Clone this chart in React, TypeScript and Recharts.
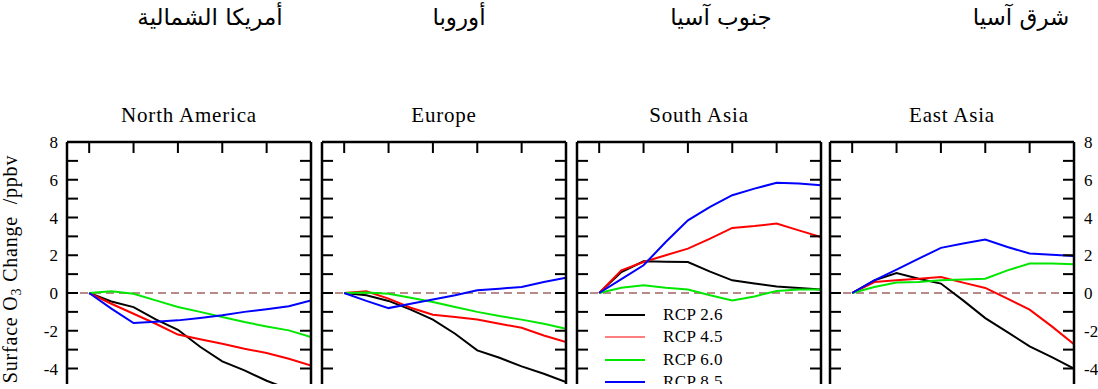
import { LineChart, Line, XAxis, YAxis, ReferenceLine, Legend } from "recharts";

const years = [2000, 2010, 2020, 2030, 2040, 2050, 2060, 2070, 2080, 2090, 2100];
const majorTicks = [2000, 2020, 2040, 2060, 2080, 2100];
const minorTicks = [2010, 2030, 2050, 2070, 2090];
const yTicks = [-8, -7, -6, -5, -4, -3, -2, -1, 0, 1, 2, 3, 4, 5, 6, 7, 8];

const scenarios = ["RCP 2.6", "RCP 4.5", "RCP 6.0", "RCP 8.5"];
const scenarioColors = ["#000000", "#ff0000", "#00e800", "#0000ff"];

const regionTitles = ["North America", "Europe", "South Asia", "East Asia"];
const arabicTitles = ["أمريكا الشمالية", "أوروبا", "جنوب آسيا", "شرق آسيا"];

// surface O3 change (ppbv), one value per decade 2000..2100
const naRcp26 = [0, -0.45, -0.75, -1.4, -1.95, -2.85, -3.62, -4.1, -4.65, -5.1, -5.5];
const naRcp45 = [0, -0.57, -1.1, -1.63, -2.2, -2.45, -2.69, -2.95, -3.18, -3.48, -3.84];
const naRcp60 = [0, 0.09, -0.04, -0.39, -0.74, -1.0, -1.27, -1.54, -1.77, -1.98, -2.33];
const naRcp85 = [0, -0.83, -1.59, -1.52, -1.45, -1.32, -1.18, -1.0, -0.86, -0.7, -0.39];

const euRcp26 = [0, -0.12, -0.42, -0.88, -1.41, -2.16, -3.04, -3.43, -3.89, -4.28, -4.72];
const euRcp45 = [0, 0.09, -0.3, -0.78, -1.15, -1.27, -1.4, -1.63, -1.84, -2.25, -2.6];
const euRcp60 = [0, 0.02, -0.04, -0.25, -0.48, -0.74, -1.0, -1.22, -1.41, -1.63, -1.89];
const euRcp85 = [0, -0.42, -0.8, -0.57, -0.34, -0.12, 0.14, 0.23, 0.32, 0.58, 0.81];

const saRcp26 = [0, 1.11, 1.68, 1.66, 1.64, 1.13, 0.67, 0.5, 0.35, 0.27, 0.19];
const saRcp45 = [0, 1.2, 1.64, 2.0, 2.35, 2.88, 3.45, 3.55, 3.68, 3.32, 2.97];
const saRcp60 = [0, 0.28, 0.41, 0.28, 0.18, -0.12, -0.39, -0.18, 0.11, 0.18, 0.18];
const saRcp85 = [0, 0.74, 1.47, 2.7, 3.85, 4.56, 5.18, 5.53, 5.84, 5.8, 5.71];

const eaRcp26 = [0, 0.67, 1.06, 0.76, 0.5, -0.39, -1.33, -2.07, -2.83, -3.4, -4.01];
const eaRcp45 = [0, 0.58, 0.67, 0.76, 0.85, 0.55, 0.27, -0.3, -0.88, -1.77, -2.72];
const eaRcp60 = [0, 0.32, 0.55, 0.58, 0.67, 0.71, 0.76, 1.2, 1.56, 1.56, 1.52];
const eaRcp85 = [0, 0.67, 1.24, 1.82, 2.39, 2.62, 2.83, 2.44, 2.09, 2.02, 1.96];

const regionSeries = [
  [naRcp26, naRcp45, naRcp60, naRcp85],
  [euRcp26, euRcp45, euRcp60, euRcp85],
  [saRcp26, saRcp45, saRcp60, saRcp85],
  [eaRcp26, eaRcp45, eaRcp60, eaRcp85],
];

const panelLefts = [67, 322, 577, 830];
const arabicCenters = [210, 459, 721, 1021];

const serif = "'Liberation Serif', 'Times New Roman', serif";
const PANEL_W = 244;
const AXIS_W = 67;

function buildRows(series: number[][]) {
  return years.map((year, i) => {
    const row: Record<string, number> = { year };
    series.forEach((s, k) => {
      row[`s${k}`] = s[i];
    });
    return row;
  });
}

function YLabel({ viewBox }: any) {
  const x = viewBox.x + 17;
  const y = viewBox.y + 127;
  return (
    <text
      x={x}
      y={y}
      transform={`rotate(-90 ${x} ${y})`}
      textAnchor="middle"
      fontFamily={serif}
      fontSize={20}
      letterSpacing={0.8}
      fill="#000"
      style={{ whiteSpace: "pre" }}
    >
      Surface O<tspan dy={4} fontSize={14}>3</tspan>
      <tspan dy={-4}> Change  /ppbv</tspan>
    </text>
  );
}

function LegendBox({ payload }: any) {
  return (
    <div style={{ fontFamily: serif, fontSize: 17, letterSpacing: 0.4, color: "#000" }}>
      {(payload || []).map((p: any) => (
        <div key={p.value} style={{ display: "flex", alignItems: "center", height: 22.5 }}>
          <svg width={40} height={4}>
            <line
              x1={0}
              x2={40}
              y1={2}
              y2={2}
              stroke={p.color}
              strokeWidth={p.color === "#ff0000" ? 1.2 : 2.2}
            />
          </svg>
          <span style={{ marginLeft: 18 }}>{p.value}</span>
        </div>
      ))}
    </div>
  );
}

function Panel({ index }: { index: number }) {
  const rows = buildRows(regionSeries[index]);
  const first = index === 0;
  const last = index === 3;
  const frame = { stroke: "#000", strokeWidth: 2.5 };
  const tickStroke = { stroke: "#000", strokeWidth: 2 };
  const tickText = { fill: "#000", fontSize: 17, fontFamily: serif };
  const evenOnly = (v: number) => (v % 2 === 0 ? String(v) : "");
  const blank = () => "";

  return (
    <div style={{ position: "absolute", left: panelLefts[index] - AXIS_W, top: 91.7 }}>
      <LineChart
        width={AXIS_W + PANEL_W + 40}
        height={352}
        data={rows}
        margin={{ top: 50, right: 0, bottom: 0, left: 0 }}
      >
        <XAxis
          xAxisId="major"
          dataKey="year"
          type="number"
          orientation="top"
          mirror
          domain={[1990, 2100]}
          allowDataOverflow
          ticks={majorTicks}
          interval={0}
          tick={tickText}
          tickFormatter={blank}
          tickSize={11}
          stroke="#000"
          axisLine={frame}
          tickLine={tickStroke}
          label={{
            value: regionTitles[index],
            position: "top",
            offset: 20,
            fill: "#000",
            fontSize: 21,
            fontFamily: serif,
            letterSpacing: 0.8,
          }}
        />
        <XAxis
          xAxisId="minor"
          type="number"
          orientation="top"
          mirror
          domain={[1990, 2100]}
          allowDataOverflow
          ticks={minorTicks}
          interval={0}
          tick={tickText}
          tickFormatter={blank}
          tickSize={6.5}
          stroke="#000"
          axisLine={false}
          tickLine={tickStroke}
        />
        <YAxis
          yAxisId="left"
          type="number"
          domain={[-8, 8]}
          allowDataOverflow
          ticks={yTicks}
          interval={0}
          width={AXIS_W}
          tickSize={-11}
          tickMargin={20}
          stroke="#000"
          axisLine={frame}
          tickLine={tickStroke}
          tick={tickText}
          tickFormatter={first ? evenOnly : blank}
          label={first ? { content: YLabel } : undefined}
        />
        <YAxis
          yAxisId="right"
          orientation="right"
          type="number"
          domain={[-8, 8]}
          allowDataOverflow
          ticks={yTicks}
          interval={0}
          width={40}
          tickSize={-11}
          tickMargin={21}
          stroke="#000"
          axisLine={frame}
          tickLine={tickStroke}
          tick={tickText}
          tickFormatter={last ? evenOnly : blank}
        />
        <ReferenceLine
          xAxisId="major"
          yAxisId="left"
          y={0}
          stroke="#b98a8a"
          strokeWidth={2}
          strokeDasharray="8 5"
        />
        {scenarios.map((name, k) => (
          <Line
            key={name}
            xAxisId="major"
            yAxisId="left"
            type="linear"
            dataKey={`s${k}`}
            name={name}
            stroke={scenarioColors[k]}
            strokeWidth={2}
            dot={false}
            isAnimationActive={false}
          />
        ))}
        {index === 2 && (
          <Legend
            layout="vertical"
            verticalAlign="middle"
            align="center"
            content={LegendBox}
            wrapperStyle={{ left: AXIS_W + 28, top: 212, width: 140 }}
          />
        )}
      </LineChart>
    </div>
  );
}

export default function App() {
  return (
    <div
      style={{
        position: "fixed",
        left: 0,
        top: 0,
        width: 1098,
        height: 384,
        overflow: "hidden",
        background: "#fff",
      }}
    >
      {arabicTitles.map((t, i) => (
        <div
          key={t}
          dir="rtl"
          style={{
            position: "absolute",
            left: arabicCenters[i],
            top: 4,
            transform: "translateX(-50%)",
            fontFamily: "'DejaVu Sans', sans-serif",
            fontSize: 23,
            lineHeight: "26px",
            whiteSpace: "nowrap",
            color: "#000",
          }}
        >
          {t}
        </div>
      ))}
      {[0, 1, 2, 3].map((i) => (
        <Panel key={i} index={i} />
      ))}
    </div>
  );
}
